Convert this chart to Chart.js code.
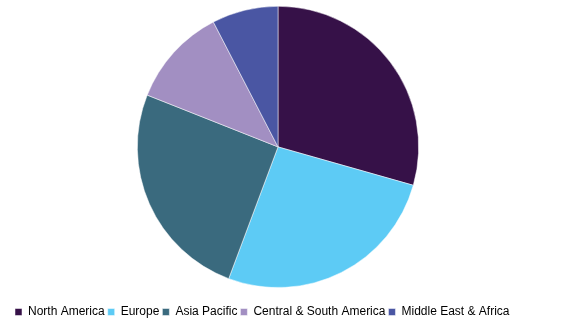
<!DOCTYPE html>
<html lang="en">
<head>
    <meta charset="UTF-8">
    <title>Market share by region</title>
    <script src="https://cdn.jsdelivr.net/npm/chart.js"></script>
    <style>
        html, body {
            margin: 0;
            padding: 0;
            background: #ffffff;
        }
        .chart-box {
            width: 570px;
            height: 328px;
        }
    </style>
</head>
<body>
    <div class="chart-box">
        <canvas id="regionPie"></canvas>
    </div>
    <script>
        // regions and their share (%)
        const regions = ['North America', 'Europe', 'Asia Pacific', 'Central & South America', 'Middle East & Africa'];
        const shares = [29.4, 26.3, 25.3, 11.4, 7.6];
        const sliceColors = ['#361148', '#5dcbf5', '#3a6a7e', '#a28fc2', '#4a56a3'];

        const ctx = document.getElementById('regionPie').getContext('2d');
        new Chart(ctx, {
            type: 'pie',
            data: {
                labels: regions,
                datasets: [{
                    data: shares,
                    backgroundColor: sliceColors,
                    borderColor: '#ffffff',
                    borderWidth: 0.5
                }]
            },
            options: {
                responsive: true,
                maintainAspectRatio: false,
                animation: false,
                layout: {
                    padding: { top: 6, left: 12, right: 26, bottom: 0 }
                },
                plugins: {
                    legend: {
                        position: 'bottom',
                        align: 'start',
                        // blank title just to leave room between pie and legend
                        title: {
                            display: true,
                            text: ' ',
                            font: { size: 1 },
                            padding: { top: 0, bottom: 14 }
                        },
                        labels: {
                            boxWidth: 7,
                            boxHeight: 7,
                            padding: 3,
                            color: '#000000',
                            font: { family: 'Liberation Sans, Arial, sans-serif', size: 12 }
                        }
                    },
                    tooltip: { enabled: false }
                }
            }
        });
    </script>
</body>
</html>
